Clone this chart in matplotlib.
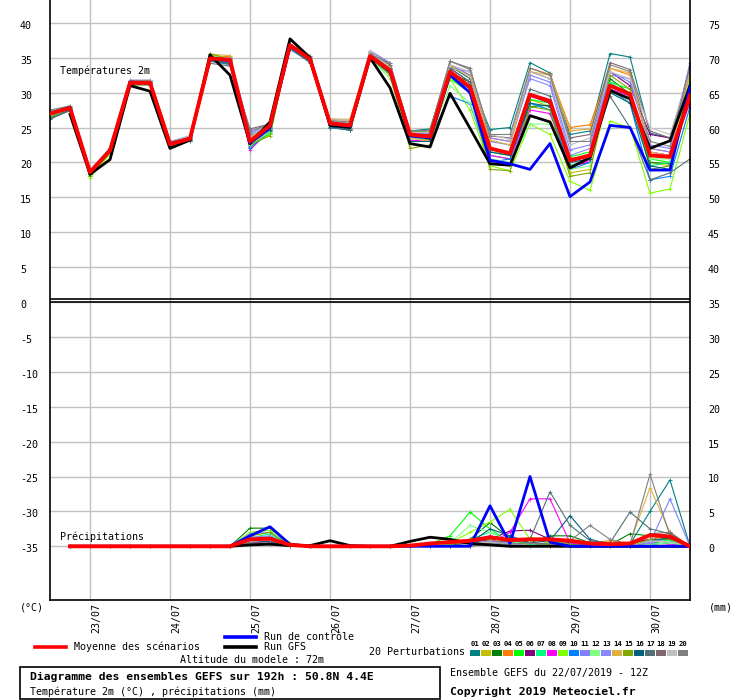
import numpy as np
import matplotlib
matplotlib.use("Agg")
import matplotlib.pyplot as plt
from matplotlib.lines import Line2D
from matplotlib.patches import Rectangle
from matplotlib.transforms import ScaledTranslation

# ── Data ─────────────────────────────────────────────────────────────────────
nan = float("nan")
HOURS = list(range(0, 193, 6))                      # 22/07 12Z + 0..192h
DATE_HOURS = [12, 36, 60, 84, 108, 132, 156, 180]
DATE_LABELS = ["23/07", "24/07", "25/07", "26/07", "27/07", "28/07", "29/07", "30/07"]

MEAN_T = [27.0, 27.8, 18.6, 21.7, 31.4, 31.4, 22.6, 23.4, 34.9, 34.7, 23.0, 25.3, 36.8, 34.8, 25.6, 25.3,
          35.2, 33.2, 24.0, 23.7, 33.0, 30.8, 22.0, 21.3, 29.7, 28.8, 20.3, 21.0, 31.0, 29.8, 21.0, 20.8, 29.6]
CTRL_T = [27.0, 27.9, 18.6, 21.8, 31.5, 31.4, 22.7, 23.4, 34.9, 34.7, 22.8, 25.0, 36.7, 34.8, 25.5, 25.2,
          35.2, 33.0, 23.8, 23.5, 32.5, 30.0, 20.3, 19.8, 19.0, 22.7, 15.1, 17.2, 25.3, 25.0, 18.9, 18.9, 30.8]
GFS_T = [nan, 26.9, 18.3, 20.4, 31.0, 30.2, 22.0, 23.2, 35.4, 32.5, 22.7, 25.8, 37.7, 35.0, 25.3, 25.0,
         35.0, 30.7, 22.7, 22.2, 29.9, 24.9, 19.8, 19.6, 26.7, 25.8, 19.2, 20.7, 30.3, 29.1, 22.0, 23.1, 31.0]

P01_T = [26.3, 27.6, 18.3, 21.8, 31.3, 31.2, 22.3, 23.2, 34.6, 34.2, 22.5, 24.8, 36.5, 34.5, 25.0, 24.6, 35.0, 33.5, 24.5, 24.8, 33.8, 32.0, 24.7, 25.0, 34.3, 32.8, 24.0, 24.5, 35.6, 35.1, 24.2, 23.5, 33.0]
P02_T = [26.8, 27.5, 18.5, 21.5, 31.6, 31.5, 22.8, 23.5, 35.3, 35.1, 23.2, 24.5, 36.6, 34.9, 26.0, 25.6, 35.3, 33.0, 23.5, 23.2, 33.2, 31.0, 21.5, 21.0, 29.0, 28.0, 18.5, 19.0, 30.5, 29.5, 20.0, 19.5, 29.0]
P03_T = [26.6, 27.9, 18.0, 21.9, 31.2, 31.4, 22.4, 23.3, 35.5, 34.8, 22.8, 24.0, 36.9, 34.7, 25.4, 25.0, 35.0, 32.8, 23.8, 23.3, 32.8, 31.5, 22.0, 21.0, 28.0, 28.2, 19.5, 20.5, 32.0, 29.8, 20.0, 19.8, 31.5]
P04_T = [27.2, 27.7, 18.7, 21.6, 31.5, 31.6, 22.6, 23.6, 35.0, 35.2, 23.5, 25.5, 36.7, 35.0, 26.2, 26.0, 35.8, 34.0, 24.3, 24.6, 34.0, 32.5, 23.5, 23.0, 33.5, 32.6, 25.0, 25.4, 33.5, 32.5, 22.0, 21.5, 33.0]
P05_T = [26.9, 28.1, 18.2, 21.3, 31.0, 31.3, 22.5, 23.4, 35.2, 34.6, 23.0, 24.2, 36.4, 34.6, 25.5, 25.2, 35.0, 33.0, 24.5, 24.3, 32.0, 30.0, 21.0, 20.5, 29.0, 28.5, 20.8, 21.5, 31.5, 30.5, 20.5, 20.0, 31.8]
P06_T = [27.0, 27.8, 18.6, 21.7, 31.4, 31.5, 22.7, 23.5, 34.8, 34.5, 22.2, 25.0, 36.8, 34.9, 25.8, 25.4, 35.5, 33.5, 23.8, 23.5, 33.5, 31.5, 22.0, 21.5, 29.5, 28.5, 19.5, 20.0, 33.0, 31.0, 24.0, 23.5, 30.5]
P07_T = [26.7, 27.9, 18.4, 21.6, 31.3, 31.3, 22.6, 23.4, 35.0, 34.7, 22.0, 24.3, 36.6, 34.7, 25.6, 25.3, 35.0, 32.5, 24.0, 23.5, 32.5, 30.0, 21.5, 21.0, 28.5, 27.5, 19.5, 20.5, 31.5, 29.5, 19.5, 20.0, 31.0]
P08_T = [27.1, 27.6, 18.5, 21.8, 31.5, 31.4, 22.5, 23.3, 34.7, 34.4, 21.8, 24.6, 36.5, 34.8, 25.5, 25.2, 35.3, 33.2, 23.2, 23.0, 33.0, 31.0, 21.0, 20.5, 27.5, 27.0, 19.3, 20.3, 30.5, 29.5, 21.5, 21.0, 28.5]
P09_T = [26.8, 28.0, 17.8, 21.2, 31.2, 31.2, 22.4, 23.2, 35.4, 34.9, 22.4, 24.0, 36.7, 34.6, 25.2, 25.0, 35.2, 33.0, 24.3, 24.0, 32.0, 27.5, 19.5, 18.8, 25.5, 24.0, 17.3, 16.0, 25.9, 25.0, 15.6, 16.2, 27.0]
P10_T = [26.4, 27.5, 18.3, 21.7, 31.6, 31.6, 22.7, 23.6, 34.5, 34.0, 22.1, 24.5, 36.2, 34.4, 25.0, 24.8, 35.0, 33.0, 23.5, 23.5, 29.5, 28.4, 20.0, 20.5, 28.5, 27.5, 19.0, 20.0, 30.5, 28.5, 17.5, 18.0, 28.0]
P11_T = [27.3, 27.9, 18.7, 22.0, 31.8, 31.7, 22.9, 23.7, 34.9, 34.9, 24.0, 25.6, 36.5, 35.0, 25.9, 25.5, 36.0, 34.3, 24.2, 24.0, 34.0, 32.5, 23.0, 22.5, 32.5, 31.5, 21.8, 22.5, 33.0, 31.5, 22.5, 22.0, 34.3]
P12_T = [26.9, 28.0, 18.4, 21.5, 31.3, 31.2, 22.6, 23.3, 35.3, 34.6, 22.5, 24.4, 36.6, 34.7, 25.7, 25.3, 35.0, 32.0, 23.5, 23.5, 31.0, 28.5, 20.5, 20.0, 25.5, 25.5, 19.0, 19.5, 30.0, 28.5, 20.5, 20.5, 29.5]
P13_T = [27.4, 27.8, 18.8, 21.9, 31.7, 31.8, 23.0, 23.8, 34.8, 34.8, 24.5, 25.5, 36.3, 35.1, 25.8, 25.6, 35.5, 34.0, 24.0, 24.2, 33.5, 33.0, 23.5, 23.0, 32.0, 31.0, 21.0, 22.0, 32.5, 32.0, 22.0, 21.5, 33.5]
P14_T = [27.0, 27.6, 18.6, 21.6, 31.4, 31.5, 22.8, 23.5, 35.5, 35.3, 23.4, 25.2, 36.7, 35.0, 26.2, 26.2, 35.5, 33.8, 23.5, 23.0, 33.8, 32.3, 23.2, 22.5, 33.0, 32.5, 24.5, 24.8, 33.5, 32.8, 21.5, 21.0, 32.5]
P15_T = [26.5, 27.4, 18.1, 21.4, 31.1, 31.1, 22.3, 23.1, 35.6, 34.7, 22.6, 23.8, 36.9, 34.6, 25.3, 24.9, 35.0, 32.5, 22.0, 22.5, 32.5, 30.0, 19.0, 18.8, 28.0, 27.5, 18.0, 18.5, 32.5, 30.5, 19.0, 19.5, 30.0]
P16_T = [26.2, 27.5, 18.3, 21.9, 31.4, 31.3, 22.4, 23.2, 34.7, 34.3, 22.8, 24.7, 36.4, 34.3, 25.1, 24.6, 35.2, 33.0, 23.0, 23.0, 32.5, 30.5, 21.5, 21.0, 28.5, 28.0, 20.0, 20.5, 30.0, 28.5, 19.5, 19.0, 31.0]
P17_T = [26.3, 27.4, 18.5, 21.8, 31.2, 31.1, 22.3, 23.1, 34.5, 34.1, 23.8, 25.2, 36.3, 34.4, 25.0, 24.7, 35.5, 33.5, 24.0, 24.0, 33.5, 31.5, 22.0, 21.5, 30.5, 29.5, 20.0, 21.0, 29.5, 25.0, 17.5, 18.5, 20.5]
P18_T = [27.2, 27.8, 18.6, 21.7, 31.5, 31.5, 22.6, 23.4, 34.2, 33.8, 24.8, 25.5, 36.6, 35.0, 25.7, 25.4, 35.8, 34.0, 24.5, 24.5, 34.5, 33.5, 23.8, 23.5, 33.0, 32.0, 23.5, 24.0, 34.3, 33.3, 24.5, 23.5, 33.5]
P19_T = [27.4, 28.0, 18.9, 22.1, 31.8, 31.8, 23.0, 23.8, 35.1, 35.0, 23.6, 25.8, 36.9, 35.2, 26.3, 26.0, 36.0, 33.5, 24.3, 24.3, 34.0, 33.0, 24.0, 23.3, 33.0, 32.0, 22.5, 23.5, 33.0, 32.0, 25.0, 24.0, 33.0]
P20_T = [27.5, 28.1, 18.8, 22.0, 31.7, 31.7, 22.9, 23.6, 35.0, 34.9, 24.3, 25.6, 36.8, 35.3, 26.0, 25.8, 35.5, 34.2, 24.5, 24.6, 34.5, 33.3, 24.0, 24.0, 33.5, 32.5, 23.0, 23.0, 34.0, 33.0, 23.0, 22.3, 33.8]

# precipitation (mm) : no value at 0h, dry until 25/07
DRY = [nan, 0, 0, 0, 0, 0, 0, 0, 0, 0]
MEAN_P = DRY + [1.0, 1.1, 0.2, 0, 0, 0, 0, 0, 0.1, 0.4, 0.6, 0.8, 1.3, 0.9, 1.0, 1.0, 0.8, 0.4, 0.3, 0.4, 1.6, 1.4, 0]
CTRL_P = DRY + [1.5, 2.8, 0.3, 0, 0, 0, 0, 0, 0, 0, 0, 0, 5.8, 0.4, 10.0, 0.6, 0, 0, 0, 0, 0, 0, 0]
GFS_P = DRY + [0.2, 0.3, 0.1, 0.1, 0.8, 0.1, 0, 0, 0.7, 1.3, 1.0, 0.4, 0.2, 0, 0, 0, 0, 0, 0, 0, 0, 0, 0]

P01_P = DRY + [0.5, 0.8, 0, 0, 0, 0, 0, 0, 0.2, 0.3, 0.5, 1.0, 0.8, 0.5, 0.3, 0.5, 0.3, 0.2, 0.3, 0.3, 5.0, 9.5, 0]
P02_P = DRY + [1.5, 1.2, 0.2, 0, 0, 0, 0, 0, 0, 0.2, 0.5, 1.0, 0.8, 0.6, 0.3, 0.2, 0, 0, 0, 0.2, 1.0, 0.5, 0]
P03_P = DRY + [2.6, 2.6, 0.3, 0, 0, 0, 0, 0, 0, 0.1, 0.3, 1.0, 3.4, 1.2, 0.5, 1.5, 1.5, 0.5, 0.2, 1.8, 1.5, 1.0, 0]
P04_P = DRY + [1.0, 1.0, 0.1, 0, 0, 0, 0, 0, 0, 0, 0, 0.3, 0.8, 0.2, 0.3, 0.1, 0, 0.5, 0.8, 0.5, 0.8, 2.0, 0]
P05_P = DRY + [0.8, 1.5, 0.2, 0, 0, 0, 0, 0, 0, 0.3, 1.5, 4.9, 2.5, 0.5, 0.5, 0.2, 0, 0, 0, 0, 0.3, 1.0, 0]
P06_P = DRY + [0.3, 0.8, 0, 0, 0, 0, 0, 0, 0, 0, 0.2, 0.5, 1.0, 2.2, 2.3, 1.0, 0.5, 0, 0, 0.5, 1.0, 1.0, 0]
P07_P = DRY + [1.2, 1.8, 0.1, 0, 0, 0, 0, 0, 0, 0, 0.3, 1.0, 2.0, 0.8, 0.3, 0, 0, 0, 0, 0, 0.5, 0.8, 0]
P08_P = DRY + [0.5, 0.3, 0, 0, 0, 0, 0, 0, 0, 0, 0, 0.2, 0.5, 2.0, 6.8, 6.8, 0.5, 0, 0, 0, 0.5, 0.3, 0]
P09_P = DRY + [2.0, 2.3, 0.5, 0, 0, 0, 0, 0, 0, 0.2, 0.5, 2.0, 3.5, 5.3, 1.0, 0.5, 0, 0, 0, 0, 0.2, 0.5, 0]
P10_P = DRY + [1.0, 1.3, 0, 0, 0, 0, 0, 0, 0, 0, 0, 0, 0.5, 0.3, 0, 0, 0.3, 0, 0, 0, 0.3, 0.5, 0]
P11_P = DRY + [1.8, 2.0, 0.2, 0, 0, 0, 0, 0, 0, 0, 0.5, 0.8, 1.5, 0.5, 0, 0, 0, 0, 0, 0, 0.5, 6.8, 0]
P12_P = DRY + [1.5, 1.0, 0, 0, 0, 0, 0, 0, 0, 0, 0.5, 3.0, 2.0, 0.8, 0, 0, 0, 0, 0, 0, 0.3, 0.5, 0]
P13_P = DRY + [1.3, 1.5, 0, 0, 0, 0, 0, 0, 0, 0, 0, 0.3, 0.8, 0.5, 0, 0, 0, 0, 0, 0, 0.5, 1.2, 0]
P14_P = DRY + [1.0, 1.2, 0, 0, 0, 0, 0, 0, 0, 0, 0, 0.2, 0.4, 0, 0, 0, 0, 0, 0.3, 0.5, 8.4, 2.0, 0]
P15_P = DRY + [1.5, 2.0, 0.2, 0, 0, 0, 0, 0, 0, 0, 0.2, 0.8, 1.0, 0.8, 1.2, 0.8, 0.3, 0, 0, 0, 1.0, 1.0, 0]
P16_P = DRY + [0.8, 0.6, 0, 0, 0, 0, 0, 0, 0, 0, 0, 0.5, 2.5, 1.5, 0.5, 0.8, 4.4, 1.0, 0.3, 0, 0.8, 1.2, 0]
P17_P = DRY + [0.6, 1.0, 0, 0, 0, 0, 0, 0, 0, 0, 0, 0, 1.5, 0.8, 1.0, 7.8, 3.0, 0.8, 0.5, 4.9, 2.5, 1.8, 0]
P18_P = DRY + [0.4, 0.5, 0, 0, 0, 0, 0, 0, 0, 0, 0, 0, 0.5, 0.8, 0.5, 0.3, 0, 0, 0, 0, 1.8, 2.0, 0]
P19_P = DRY + [0.7, 0.9, 0, 0, 0, 0, 0, 0, 0, 0, 0, 0.3, 0.6, 0.3, 0, 0, 0, 0, 0, 0, 0.8, 0.6, 0]
P20_P = DRY + [0.5, 0.4, 0, 0, 0, 0, 0, 0, 0, 0, 0, 0, 0.3, 0.3, 0.5, 0, 0.8, 3.0, 1.0, 0.2, 10.3, 1.5, 0]

PERT_T = [P01_T, P02_T, P03_T, P04_T, P05_T, P06_T, P07_T, P08_T, P09_T, P10_T,
          P11_T, P12_T, P13_T, P14_T, P15_T, P16_T, P17_T, P18_T, P19_T, P20_T]
PERT_P = [P01_P, P02_P, P03_P, P04_P, P05_P, P06_P, P07_P, P08_P, P09_P, P10_P,
          P11_P, P12_P, P13_P, P14_P, P15_P, P16_P, P17_P, P18_P, P19_P, P20_P]
PERT_COLORS = ["#008080", "#c0c000", "#008000", "#ff8000", "#00ff00", "#800080", "#00ff80",
               "#ff00ff", "#80ff00", "#0080ff", "#8080ff", "#80ff80", "#8888ff", "#e0b040",
               "#80a800", "#006080", "#507078", "#806870", "#c0c0c0", "#808080"]

P_OFFSET = -35          # precipitation panel: 0 mm drawn at -35
Y_TICKS = list(range(-35, 45, 5))

# ── Figure ───────────────────────────────────────────────────────────────────
W, H = 740, 700
MONO = "DejaVu Sans Mono"
plt.rcParams["font.family"] = MONO
FS = 7.2


def fx(x):
    return x / W


def fy(y):
    return 1 - y / H


fig = plt.figure(figsize=(W / 100, H / 100), dpi=100)
ax = fig.add_axes([fx(50), fy(600), 640 / W, 600 / H])
ax.set_xlim(0, 192)
ax.set_ylim(-298 / 6.98, 302 / 6.98)

ax.set_xticks(DATE_HOURS)
ax.set_xticklabels(DATE_LABELS, rotation=90, fontsize=FS)
ax.set_yticks(Y_TICKS)
ax.set_yticklabels([str(v) for v in Y_TICKS], fontsize=FS)
ax.grid(color="#c0c0c0", lw=1.0)
ax.set_axisbelow(True)
ax.tick_params(axis="x", length=0, pad=2)
ax.tick_params(axis="y", length=0, pad=21.6)
for lab in ax.get_xticklabels():
    lab.set_transform(lab.get_transform() + ScaledTranslation(6 / 100, 0, fig.dpi_scale_trans))
for lab in ax.get_yticklabels():
    lab.set_horizontalalignment("left")
    lab.set_transform(lab.get_transform() + ScaledTranslation(0, -2 / 100, fig.dpi_scale_trans))
ax.spines["top"].set_visible(False)
for s in ["left", "right", "bottom"]:
    ax.spines[s].set_color("black")
    ax.spines[s].set_linewidth(1.2)

# right-hand scale (°F-like offset labels: value + 35)
tw = ax.twinx()
tw.set_ylim(ax.get_ylim())
tw.set_yticks(Y_TICKS)
tw.set_yticklabels([str(v + 35) for v in Y_TICKS], fontsize=FS)
tw.tick_params(axis="y", length=0, pad=13)
for lab in tw.get_yticklabels():
    lab.set_transform(lab.get_transform() + ScaledTranslation(0, -2 / 100, fig.dpi_scale_trans))
for s in tw.spines.values():
    s.set_visible(False)

# separator between the two panels
ax.axhline(0, color="black", lw=1.2, zorder=5)
ax.axhline(0.43, color="black", lw=1.2, zorder=5)

# perturbations
for t, p, c in zip(PERT_T, PERT_P, PERT_COLORS):
    ax.plot(HOURS, t, color=c, lw=0.8, marker="+", ms=3, mew=0.6, zorder=2)
    ax.plot(HOURS, np.array(p) + P_OFFSET, color=c, lw=0.8, marker="+", ms=3, mew=0.6, zorder=2)

# GFS, control, mean
ax.plot(HOURS, GFS_T, color="black", lw=2.0, zorder=3)
ax.plot(HOURS, np.array(GFS_P) + P_OFFSET, color="black", lw=2.0, zorder=3)
ax.plot(HOURS, CTRL_T, color="#0000ff", lw=2.0, zorder=3)
ax.plot(HOURS, np.array(CTRL_P) + P_OFFSET, color="#0000ff", lw=2.0, zorder=3)
ax.plot(HOURS, MEAN_T, color="#ff0000", lw=2.8, zorder=4)
ax.plot(HOURS, np.array(MEAN_P) + P_OFFSET, color="#ff0000", lw=2.8, zorder=4)

fig.text(fx(60), fy(71), "Températures 2m", fontsize=FS, va="center")
fig.text(fx(60), fy(537), "Précipitations", fontsize=FS, va="center")
fig.text(fx(20), fy(607), "(°C)", fontsize=FS, va="center")
fig.text(fx(709), fy(607), "(mm)", fontsize=FS, va="center")

# ── Legend / footer ─────────────────────────────────────────────────────────
fig.add_artist(Line2D([fx(35), fx(66)], [fy(647)] * 2, color="#ff0000", lw=2.6))
fig.text(fx(74), fy(647), "Moyenne des scénarios", fontsize=FS, va="center")
fig.add_artist(Line2D([fx(225), fx(256)], [fy(637)] * 2, color="#0000ff", lw=2.6))
fig.text(fx(264), fy(637), "Run de contrôle", fontsize=FS, va="center")
fig.add_artist(Line2D([fx(225), fx(256)], [fy(647)] * 2, color="black", lw=2.6))
fig.text(fx(264), fy(647), "Run GFS", fontsize=FS, va="center")
fig.text(fx(180), fy(660), "Altitude du modele : 72m", fontsize=FS, va="center")

fig.text(fx(369), fy(652), "20 Perturbations", fontsize=FS, va="center")
for i, c in enumerate(PERT_COLORS):
    x0 = 470 + i * 10.95
    fig.add_artist(Rectangle((fx(x0), fy(656)), 10 / W, 6 / H, transform=fig.transFigure,
                             facecolor=c, edgecolor="none"))
    fig.text(fx(x0 + 5), fy(644), f"{i + 1:02d}", fontsize=5.2, fontweight="bold",
             ha="center", va="center")

fig.add_artist(Rectangle((fx(20), fy(699)), 420 / W, 32 / H, transform=fig.transFigure,
                         fill=False, edgecolor="black", lw=1.2))
fig.text(fx(30), fy(677), "Diagramme des ensembles GEFS sur 192h : 50.8N 4.4E",
         fontsize=8.2, fontweight="bold", va="center")
fig.text(fx(30), fy(692), "Température 2m (°C) , précipitations (mm)", fontsize=FS, va="center")
fig.text(fx(450), fy(673), "Ensemble GEFS du 22/07/2019 - 12Z", fontsize=FS, va="center")
fig.text(fx(450), fy(692), "Copyright 2019 Meteociel.fr", fontsize=8.2, fontweight="bold", va="center")

fig.savefig("out.png", dpi=100)
plt.close(fig)
